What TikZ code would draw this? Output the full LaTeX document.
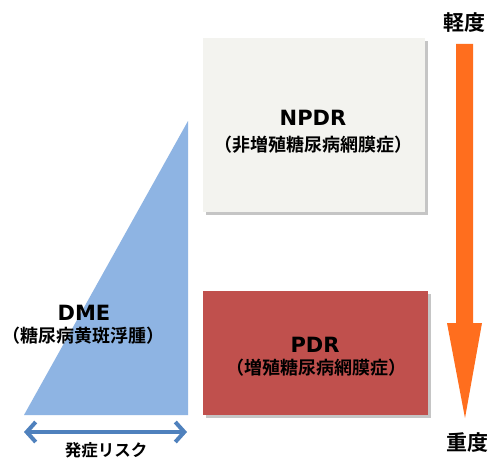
\documentclass[tikz,border=0pt]{standalone}
\usepackage{fontspec}
\newfontfamily\jpfont{Noto Sans CJK JP}[BoldFont={Noto Sans CJK JP Bold}]
\newfontfamily\latfont{DejaVu Sans}[BoldFont={DejaVu Sans Bold}]
\usetikzlibrary{arrows.meta,shadows}
\definecolor{dmeblue}{RGB}{142,180,227}
\definecolor{riskblue}{RGB}{79,129,189}
\definecolor{npdrgrey}{RGB}{243,243,239}
\definecolor{pdrred}{RGB}{192,80,77}
\definecolor{stageorange}{RGB}{255,110,30}
\tikzset{
  titletext/.style={font=\latfont\bfseries\fontsize{21}{23}\selectfont},
  jptext/.style={font=\jpfont\bfseries\fontsize{18}{20}\selectfont, inner sep=0pt},
  stagebox/.style={draw=none, drop shadow={shadow xshift=3pt, shadow yshift=-3pt, opacity=0.45}}
}
\begin{document}
\begin{tikzpicture}[x=1pt,y=-1pt]
\useasboundingbox[fill=white] (0,0) rectangle (500,468);

%draw the risk triangle for DME
\fill[dmeblue] (24,415) -- (188,121) -- (188,415) -- cycle;

%draw the two stage boxes
\node[stagebox, fill=npdrgrey, minimum width=222pt, minimum height=174pt] (npdrbox) at (314,125) {};
\node[stagebox, fill=pdrred, minimum width=225pt, minimum height=124pt] (pdrbox) at (315.5,353) {};

%labels inside the boxes
\node[titletext] (npdr) at (313,118) {NPDR};
\node[jptext] (npdrjp) at (313,145) {（非増殖糖尿病網膜症）};
\node[titletext] (pdr) at (315,345) {PDR};
\node[jptext] (pdrjp) at (316,368) {（増殖糖尿病網膜症）};
\node[titletext] (dme) at (84,313) {DME};
\node[jptext] (dmejp) at (83,336) {（糖尿病黄斑浮腫）};

%draw the risk arrow under the triangle
\coordinate (riskl) at (24,432);
\coordinate (riskr) at (187,432);
\draw[{Straight Barb[length=9pt,width=20pt,line width=4pt]}-{Straight Barb[length=9pt,width=20pt,line width=4pt]}, line width=4pt, color=riskblue] (riskl) -- (riskr);
\node[jptext, font=\jpfont\bfseries\fontsize{16.5}{20}\selectfont] (risk) at (106,450) {発症リスク};

%draw the severity arrow and its ends
\node[jptext, font=\jpfont\bfseries\fontsize{21}{24}\selectfont] (mild) at (464,23) {軽度};
\node[jptext, font=\jpfont\bfseries\fontsize{21}{24}\selectfont] (severe) at (467,443) {重度};
\fill[stageorange] (456,44) -- (473,44) -- (473,323) -- (482,323) -- (465,418) -- (447,323) -- (456,323) -- cycle;
\end{tikzpicture}
\end{document}
